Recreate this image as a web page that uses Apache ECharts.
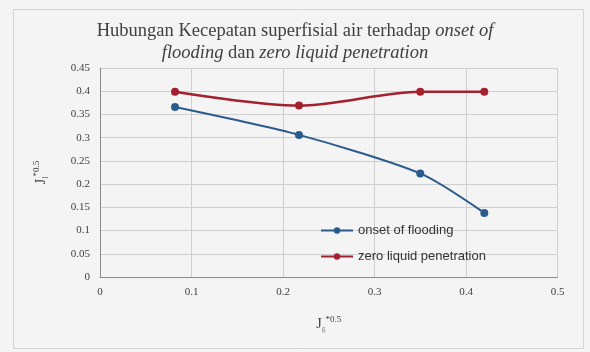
<!DOCTYPE html>
<html>
<head>
<meta charset="utf-8">
<style>
  html, body { margin: 0; padding: 0; background: #ffffff; }
  #chart { width: 590px; height: 352px; }
</style>
<script src="https://cdn.jsdelivr.net/npm/echarts@6/dist/echarts.min.js"></script>
</head>
<body>
<div id="chart"></div>
<script>
// Superficial gas velocity J_g*0.5 (x) against liquid velocity J_l*0.5 (y)
const onsetX = [0.082, 0.2175, 0.35, 0.42];
const onsetY = [0.366, 0.306, 0.223, 0.138];
const zeroX = [0.082, 0.2175, 0.35, 0.42];
const zeroY = [0.399, 0.369, 0.399, 0.399];
const xTicks = [0, 0.1, 0.2, 0.3, 0.4, 0.5];
const yTicks = [0, 0.05, 0.1, 0.15, 0.2, 0.25, 0.3, 0.35, 0.4, 0.45];

const pairs = (xs, ys) => xs.map((x, i) => [x, ys[i]]);

const chart = echarts.init(document.getElementById('chart'));
const serif = '"Liberation Serif", "DejaVu Serif", serif';
const blue = '#2b5b8c';
const red = '#a3202f';

chart.setOption({
  backgroundColor: '#f4f4f4',
  animation: false,
  graphic: [
    { type: 'rect', shape: { x: 13.5, y: 9.5, width: 570, height: 339 },
      style: { fill: 'none', stroke: '#d4d4d4', lineWidth: 1 } }
  ],
  title: {
    text: '{n|Hubungan Kecepatan superfisial air terhadap }{i|onset of}\n{i|flooding}{n| dan }{i|zero liquid penetration}',
    left: 'center',
    top: 20,
    padding: [0, 0, 0, 18],
    textStyle: {
      fontWeight: 'normal',
      rich: {
        n: { fontFamily: serif, fontSize: 18.5, fontWeight: 'normal', color: '#404040', lineHeight: 22 },
        i: { fontFamily: serif, fontSize: 18.5, fontWeight: 'normal', fontStyle: 'italic', color: '#404040', lineHeight: 22 }
      }
    }
  },
  grid: { left: 100, right: 32.5, top: 68, bottom: 75, containLabel: false },
  legend: {
    orient: 'vertical',
    left: 315,
    top: 219,
    itemWidth: 32,
    itemHeight: 8,
    itemGap: 13,
    textStyle: { fontFamily: '"Liberation Sans", Arial, sans-serif', fontSize: 13, color: '#333' },
    data: ['onset of flooding', 'zero liquid penetration']
  },
  xAxis: {
    type: 'value',
    min: xTicks[0],
    max: xTicks[xTicks.length - 1],
    interval: 0.1,
    name: '{b|J}{s|g}{p|*0.5}',
    nameLocation: 'middle',
    nameGap: 38,
    nameTextStyle: {
      rich: {
        b: { fontFamily: serif, fontSize: 14, color: '#404040' },
        s: { fontFamily: serif, fontSize: 8, color: '#909090', padding: [10, 0, 0, 0] },
        p: { fontFamily: serif, fontSize: 9, color: '#404040', padding: [0, 0, 8, 0] }
      }
    },
    axisLine: { lineStyle: { color: '#8a8a8a', width: 1 } },
    axisTick: { show: false },
    axisLabel: { fontFamily: serif, fontSize: 11, color: '#404040', margin: 10,
      formatter: v => String(+v.toFixed(2)) },
    splitLine: { show: true, lineStyle: { color: '#cfcfcf', width: 1 } }
  },
  yAxis: {
    type: 'value',
    min: yTicks[0],
    max: yTicks[yTicks.length - 1],
    interval: 0.05,
    name: '{b|J}{s|l}{p|*0.5}',
    nameLocation: 'middle',
    nameGap: 50,
    nameRotate: 90,
    nameTextStyle: {
      rich: {
        b: { fontFamily: serif, fontSize: 14, color: '#404040' },
        s: { fontFamily: serif, fontSize: 8, color: '#707070', padding: [10, 0, 0, 0] },
        p: { fontFamily: serif, fontSize: 9, color: '#404040', padding: [0, 0, 8, 0] }
      }
    },
    axisLine: { show: true, lineStyle: { color: '#8a8a8a', width: 1 } },
    axisTick: { show: false },
    axisLabel: { fontFamily: serif, fontSize: 11, color: '#404040', margin: 10,
      formatter: v => String(+v.toFixed(2)) },
    splitLine: { show: true, lineStyle: { color: '#cfcfcf', width: 1 } }
  },
  series: [
    {
      name: 'onset of flooding',
      type: 'line',
      smooth: 0.25,
      data: pairs(onsetX, onsetY),
      symbol: 'circle',
      symbolSize: 8,
      lineStyle: { color: blue, width: 2 },
      itemStyle: { color: blue }
    },
    {
      name: 'zero liquid penetration',
      type: 'line',
      smooth: 0.3,
      data: pairs(zeroX, zeroY),
      symbol: 'circle',
      symbolSize: 8,
      lineStyle: { color: red, width: 2.5 },
      itemStyle: { color: red }
    }
  ]
});
</script>
</body>
</html>
